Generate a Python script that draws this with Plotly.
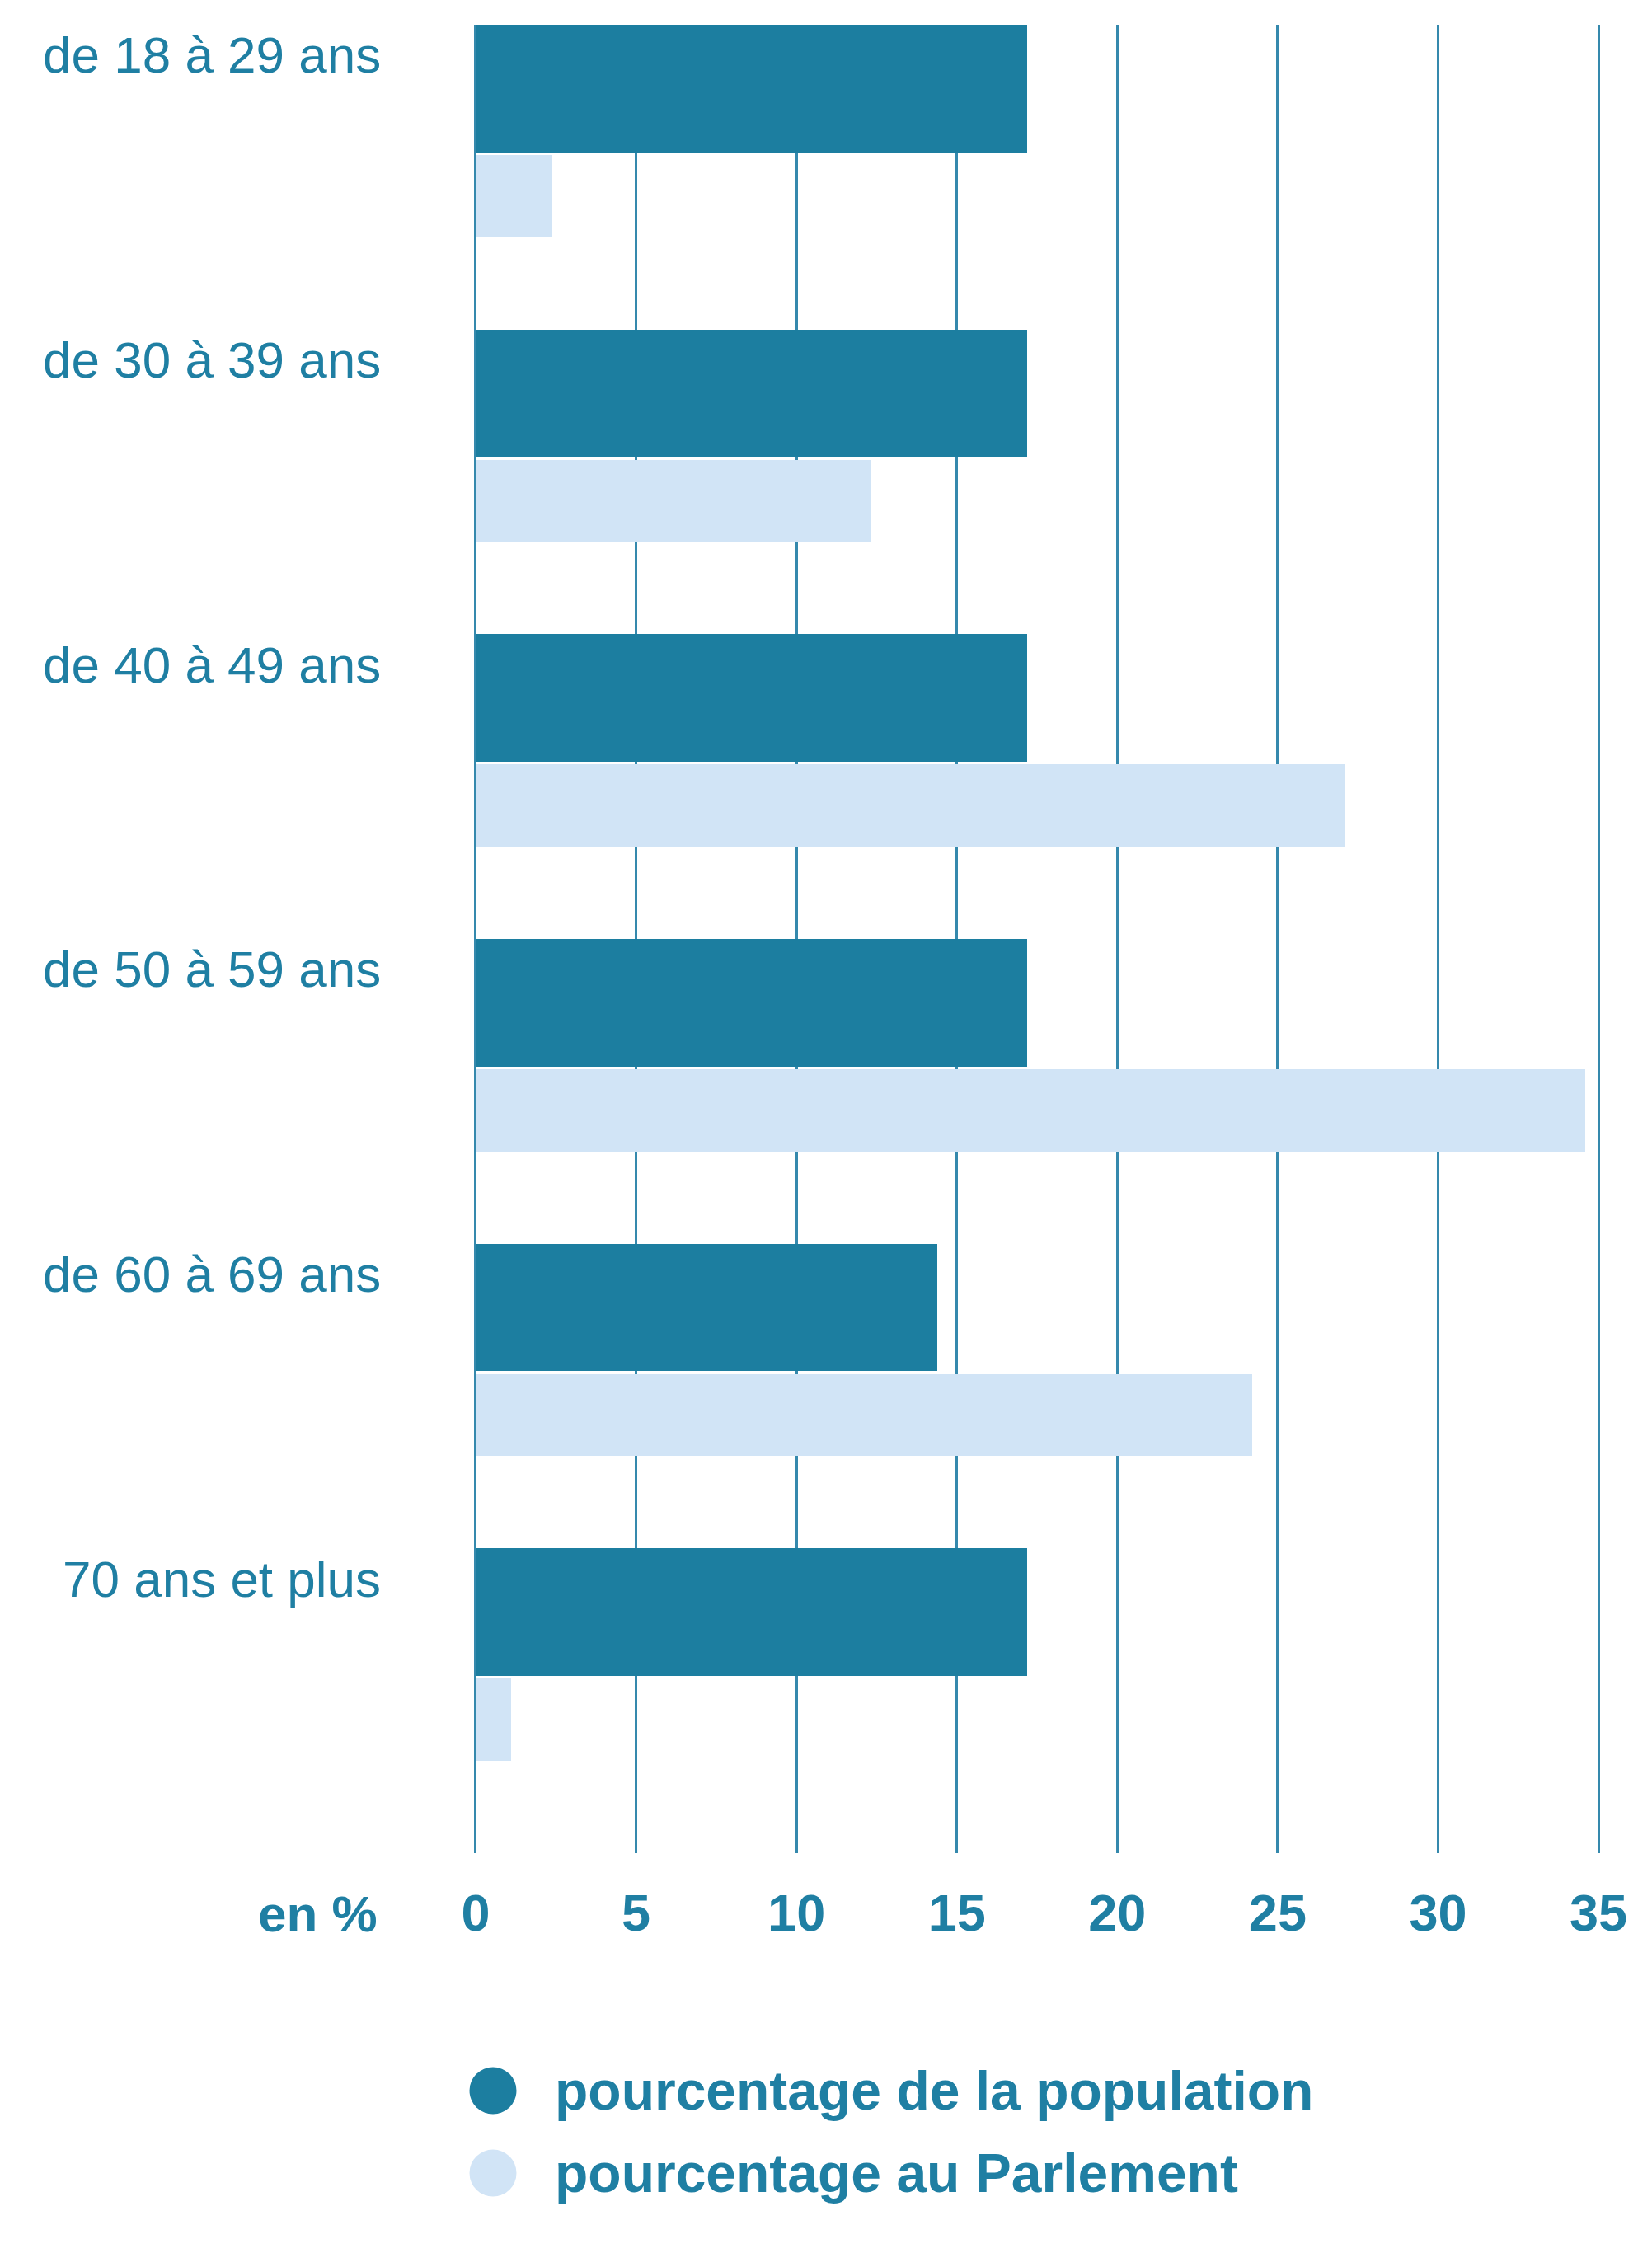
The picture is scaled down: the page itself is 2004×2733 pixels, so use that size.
import plotly.graph_objects as go

# Data (values in %)
age_groups = ["de 18 à 29 ans", "de 30 à 39 ans", "de 40 à 49 ans",
              "de 50 à 59 ans", "de 60 à 69 ans", "70 ans et plus"]
population = [17.2, 17.2, 17.2, 17.2, 14.4, 17.2]
parlement = [2.4, 12.3, 27.1, 34.6, 24.2, 1.1]
series_names = ["pourcentage de la population", "pourcentage au Parlement"]
x_ticks = [0, 5, 10, 15, 20, 25, 30, 35]
unit_label = "en %"

DARK = "#1c7ea0"
LIGHT = "#d1e4f6"
TEXT = "#1f7fa3"
GRID = "#3589ad"
FONT = "Liberation Sans"

W, H = 2004, 2733
M_L, M_R, M_T, M_B = 567, 71, 22, 493
plot_h = H - M_T - M_B


def paper_y(py):
    # pixel row -> paper coordinate
    return (H - M_B - py) / plot_h


def paper_x(px):
    return (px - M_L) / (W - M_L - M_R)


fig = go.Figure()

fig.add_trace(go.Bar(
    y=age_groups, x=population, orientation="h",
    name=series_names[0], marker=dict(color=DARK, line=dict(width=0)),
    width=0.418, offset=-0.5, showlegend=False,
))
fig.add_trace(go.Bar(
    y=age_groups, x=parlement, orientation="h",
    name=series_names[1], marker=dict(color=LIGHT, line=dict(width=0)),
    width=0.27, offset=-0.073, showlegend=False,
))

# category labels sit near the top of each group
annotations = []
for g in age_groups:
    annotations.append(dict(
        text=g, x=0, xref="paper", y=g, yref="y",
        xanchor="right", yanchor="middle", xshift=-111, yshift=148,
        showarrow=False, font=dict(family=FONT, size=62, color=TEXT),
    ))

annotations.append(dict(
    text=unit_label, x=0, xref="paper", y=0, yref="paper",
    xanchor="right", yanchor="middle", xshift=-115, yshift=-73,
    showarrow=False, font=dict(family=FONT, size=62, color=TEXT, weight="bold"),
))

# custom legend: big round markers + bold labels
legend_rows = [2528, 2628]
legend_colors = [DARK, LIGHT]
shapes = []
for name, row, col in zip(series_names, legend_rows, legend_colors):
    shapes.append(dict(
        type="circle", xref="paper", yref="paper",
        xsizemode="pixel", ysizemode="pixel",
        xanchor=paper_x(590), yanchor=paper_y(row),
        x0=-28.5, x1=28.5, y0=-28.5, y1=28.5,
        fillcolor=col, line=dict(width=0),
    ))
    annotations.append(dict(
        text=name, x=paper_x(663), xref="paper", y=paper_y(row), yref="paper",
        xanchor="left", yanchor="middle", showarrow=False,
        font=dict(family=FONT, size=66, color=TEXT, weight="bold"),
    ))

fig.update_layout(
    width=W, height=H,
    margin=dict(l=M_L, r=M_R, t=M_T, b=M_B),
    paper_bgcolor="white", plot_bgcolor="white",
    barmode="overlay", bargap=0,
    showlegend=False,
    annotations=annotations,
    shapes=shapes,
    xaxis=dict(
        range=[-0.05, 35.05], tickvals=x_ticks,
        showgrid=True, gridcolor=GRID, gridwidth=3,
        zeroline=True, zerolinecolor=GRID, zerolinewidth=3,
        showline=False, ticks="",
        tickfont=dict(family=FONT, size=63, color=TEXT, weight="bold"),
        ticklabelstandoff=30,
    ),
    yaxis=dict(
        type="category", categoryorder="array", categoryarray=age_groups,
        range=[len(age_groups) - 0.5, -0.5],
        showgrid=False, zeroline=False, showticklabels=False, ticks="",
    ),
)

fig.write_html("out.html")
